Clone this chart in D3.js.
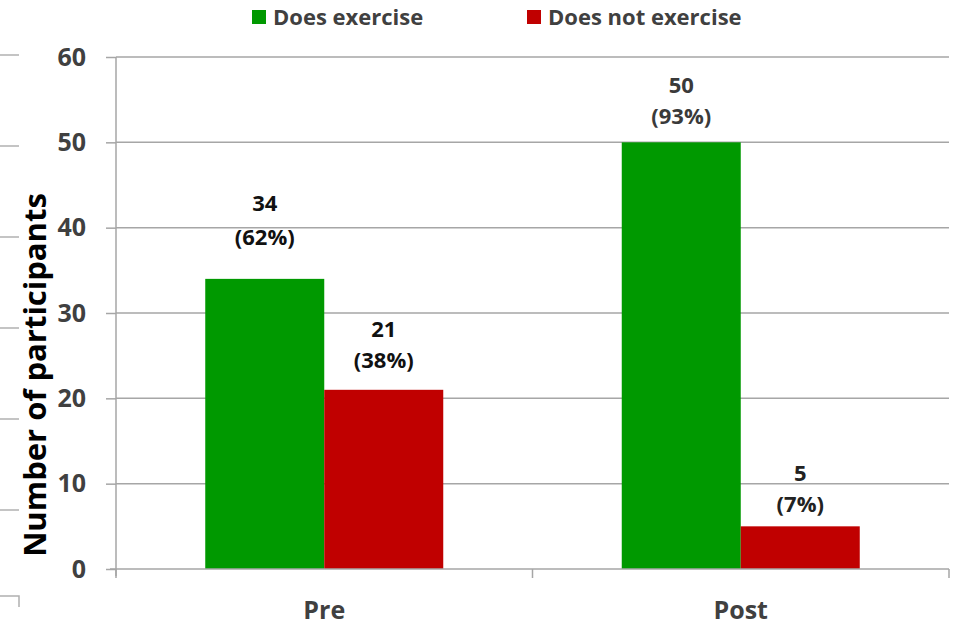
<!DOCTYPE html>
<html>
<head>
<meta charset="utf-8">
<script src="https://cdn.jsdelivr.net/npm/d3@7"></script>
<style>
  html, body { margin: 0; padding: 0; background: #ffffff; }
  svg { display: block; font-family: "Open Sans", Lato, sans-serif; }
</style>
</head>
<body>
<svg id="chart" width="953" height="626"></svg>
<script>
// Participants who exercise, before and after the programme
const phases = ["Pre", "Post"];
const seriesNames = ["Does exercise", "Does not exercise"];
const seriesColors = ["#009900", "#c00000"];
const exercises = [34, 50];
const noExercise = [21, 5];
const exercisePct = ["62%", "93%"];
const noExercisePct = ["38%", "7%"];
const yTicks = [0, 10, 20, 30, 40, 50, 60];

const rows = phases.map((p, i) => ({
  phase: p,
  values: [
    { series: seriesNames[0], value: exercises[i], pct: exercisePct[i] },
    { series: seriesNames[1], value: noExercise[i], pct: noExercisePct[i] }
  ]
}));

// label placement tweaks (gap above bar, line spacing, colour) per phase/series
const labelStyle = {
  "Pre|Does exercise":      { gap: 41, lead: 34, fill: "#111" },
  "Pre|Does not exercise":  { gap: 29, lead: 31, fill: "#111" },
  "Post|Does exercise":     { gap: 25, lead: 31, fill: "#3a3a3a" },
  "Post|Does not exercise": { gap: 21, lead: 31, fill: "#222" }
};

const svg = d3.select("#chart");
const plotLeft = 116, plotRight = 949, plotTop = 57, plotBottom = 569;
const gridColor = "#a6a6a6";

const y = d3.scaleLinear().domain([0, 60]).range([plotBottom, plotTop]);
const x0 = d3.scaleBand().domain(phases).range([plotLeft, plotRight]).padding(0);
const x1 = d3.scaleBand().domain(seriesNames).range([0, x0.bandwidth()])
  .paddingInner(0).paddingOuter(0.75);
const color = d3.scaleOrdinal().domain(seriesNames).range(seriesColors);

// faint ruler marks along the left edge of the page
const edge = svg.append("g").attr("stroke", "#b0b0b0").attr("stroke-width", 1.5).attr("fill", "none");
const edgeScale = d3.scaleLinear().domain([0, 6]).range([55, 601]);
d3.range(0, 6).forEach(k => {
  edge.append("line").attr("x1", 0).attr("x2", 19)
    .attr("y1", edgeScale(k)).attr("y2", edgeScale(k));
});
edge.append("path").attr("d", `M0,${edgeScale(6) - 5}H19V${edgeScale(6) + 6}`);

// horizontal gridlines
svg.append("g")
  .selectAll("line")
  .data(yTicks.filter(t => t > 0))
  .join("line")
  .attr("x1", plotLeft).attr("x2", plotRight)
  .attr("y1", d => y(d)).attr("y2", d => y(d))
  .attr("stroke", gridColor).attr("stroke-width", 1.5);

// y axis
const yAxis = svg.append("g")
  .attr("transform", `translate(${plotLeft},0)`)
  .call(d3.axisLeft(y).tickValues(yTicks).tickSize(10).tickPadding(20));
yAxis.select(".domain").attr("stroke", gridColor).attr("stroke-width", 1.5)
  .attr("d", `M0,${plotTop}V${plotBottom + 7}`);
yAxis.selectAll(".tick line").attr("stroke", gridColor).attr("stroke-width", 1.5);
yAxis.selectAll(".tick text")
  .attr("fill", "#404040").attr("font-size", 25).attr("font-weight", 700)
  .attr("font-family", "'Open Sans', sans-serif");

// bars
const groups = svg.append("g")
  .selectAll("g")
  .data(rows)
  .join("g")
  .attr("transform", d => `translate(${x0(d.phase)},0)`);

groups.selectAll("rect")
  .data(d => d.values)
  .join("rect")
  .attr("x", d => x1(d.series))
  .attr("width", x1.bandwidth())
  .attr("y", d => y(d.value))
  .attr("height", d => y(0) - y(d.value))
  .attr("fill", d => color(d.series));

// value labels: count on the first line, share in brackets below
groups.each(function (row) {
  const g = d3.select(this);
  row.values.forEach(v => {
    const st = labelStyle[row.phase + "|" + v.series];
    const cx = x1(v.series) + x1.bandwidth() / 2;
    const base = y(v.value) - st.gap + 7;
    const t = g.append("text")
      .attr("text-anchor", "middle")
      .attr("font-size", 22).attr("font-weight", 700)
      .attr("fill", st.fill);
    t.append("tspan").attr("x", cx).attr("y", base - st.lead).text(v.value);
    t.append("tspan").attr("x", cx).attr("y", base).text("(" + v.pct + ")");
  });
});

// x axis
const xAxis = svg.append("g").attr("transform", `translate(0,${plotBottom})`);
xAxis.append("line").attr("x1", plotLeft - 6).attr("x2", plotRight)
  .attr("stroke", gridColor).attr("stroke-width", 1.5);
xAxis.selectAll(".sep")
  .data(phases.map(p => x0(p)).concat([plotRight]))
  .join("line")
  .attr("x1", d => d).attr("x2", d => d)
  .attr("y1", 0).attr("y2", 9)
  .attr("stroke", gridColor).attr("stroke-width", 1.5);
xAxis.selectAll(".cat")
  .data(phases)
  .join("text")
  .attr("x", d => x0(d) + x0.bandwidth() / 2)
  .attr("y", 50)
  .attr("text-anchor", "middle")
  .attr("font-size", 25).attr("font-weight", 700)
  .attr("fill", "#404040")
  .text(d => d);

// y axis title
svg.append("text")
  .attr("transform", `translate(46,375) rotate(-90)`)
  .attr("text-anchor", "middle")
  .attr("font-size", 31).attr("font-weight", 700)
  .attr("fill", "#000")
  .text("Number of participants");

// legend
const legendX = [252, 527];
const legend = svg.append("g")
  .selectAll("g")
  .data(seriesNames)
  .join("g")
  .attr("transform", (d, i) => `translate(${legendX[i]},10)`);
legend.append("rect").attr("width", 14).attr("height", 14)
  .attr("fill", d => color(d));
legend.append("text")
  .attr("x", 21).attr("y", 15)
  .attr("font-size", 22).attr("font-weight", 700)
  .attr("fill", "#404040")
  .text(d => d);
</script>
</body>
</html>
